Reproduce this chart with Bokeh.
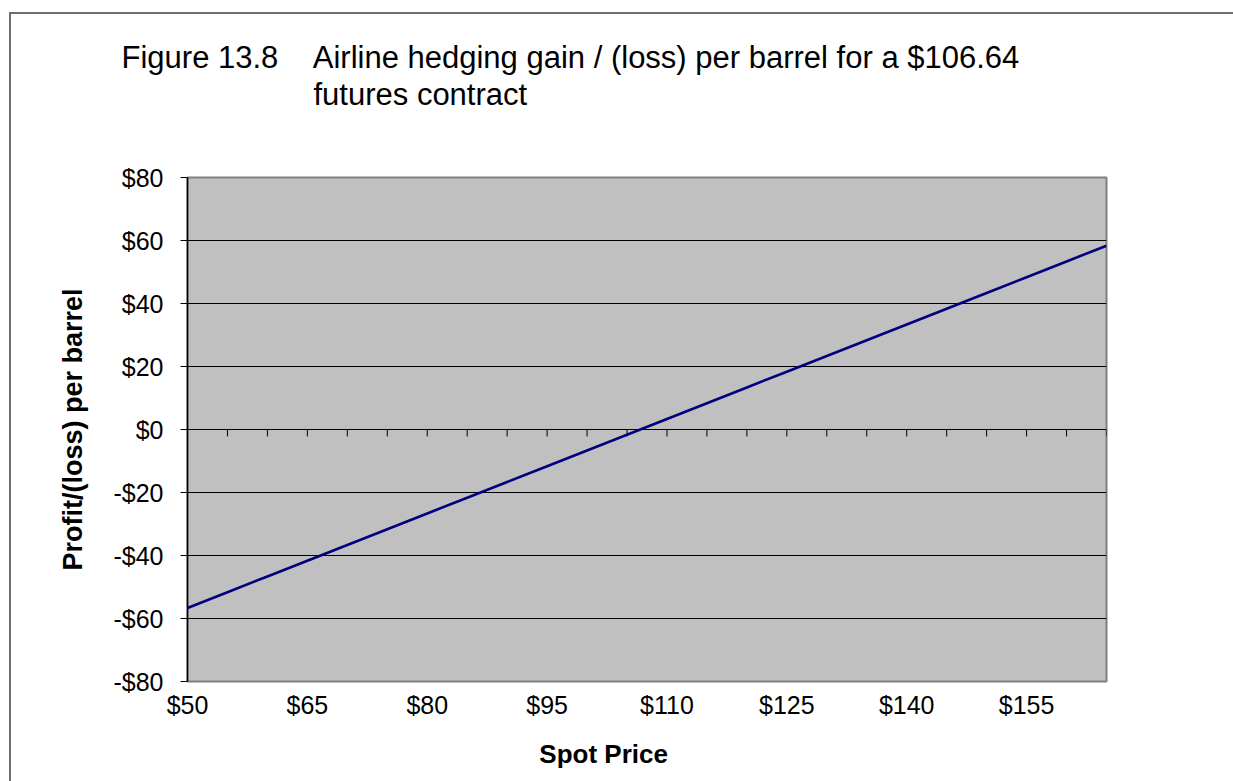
from bokeh.plotting import figure
from bokeh.models import FixedTicker, Title, ColumnDataSource, Range1d
from bokeh.embed import file_html
from bokeh.resources import INLINE

# Spot price per barrel and the hedge gain/(loss) against a $106.64 futures contract
spot = [50, 55, 60, 65, 70, 75, 80, 85, 90, 95, 100, 105,
        110, 115, 120, 125, 130, 135, 140, 145, 150, 155, 160, 165]
gain = [-56.64, -51.64, -46.64, -41.64, -36.64, -31.64, -26.64, -21.64,
        -16.64, -11.64, -6.64, -1.64, 3.36, 8.36, 13.36, 18.36,
        23.36, 28.36, 33.36, 38.36, 43.36, 48.36, 53.36, 58.36]

x_ticks = [50, 65, 80, 95, 110, 125, 140, 155]
x_tick_labels = ["$50", "$65", "$80", "$95", "$110", "$125", "$140", "$155"]
y_ticks = [-80, -60, -40, -20, 0, 20, 40, 60, 80]
y_tick_labels = ["-$80", "-$60", "-$40", "-$20", "$0", "$20", "$40", "$60", "$80"]

W, H = 1233, 781
FL, FR, FT, FB = 187, 1106, 177, 681   # frame edges on the canvas
FONT = "Liberation Sans"
NB = "\u00a0"

p = figure(width=W, height=H, output_backend="svg", toolbar_location=None,
           title_location=None,
           x_range=Range1d(50, 165), y_range=Range1d(-80, 80),
           min_border_left=FL, min_border_right=W - FR,
           min_border_top=FT, min_border_bottom=H - FB)

# white page with a thin grey frame starting near the top-left corner
p.border_fill_color = None
p.styles = {
    "background": ("linear-gradient(#6e6e6e, #6e6e6e) 9px 12px / 2px 100% no-repeat, "
                   "linear-gradient(#6e6e6e, #6e6e6e) 9px 12px / 100% 2px no-repeat, "
                   "white"),
}

p.background_fill_color = "#C0C0C0"
p.outline_line_color = "#808080"
p.outline_line_width = 2

# axes
p.xaxis.ticker = FixedTicker(ticks=x_ticks)
p.xaxis.major_label_overrides = dict(zip(x_ticks, x_tick_labels))
p.xaxis.axis_line_color = None
p.xaxis.major_tick_line_color = None
p.xaxis.minor_tick_line_color = None
p.xaxis.major_label_standoff = 3
# trailing no-break spaces pull the centred label a little to the left
p.xaxis.axis_label = "Spot Price" + NB * 12
p.xaxis.axis_label_standoff = 17

p.yaxis.ticker = FixedTicker(ticks=y_ticks)
p.yaxis.major_label_overrides = dict(zip(y_ticks, y_tick_labels))
p.yaxis.axis_line_color = "black"
p.yaxis.axis_line_width = 1.5
p.yaxis.major_tick_line_color = "black"
p.yaxis.major_tick_in = 0
p.yaxis.major_tick_out = 7
p.yaxis.minor_tick_line_color = None
p.yaxis.major_label_standoff = 17
p.yaxis.axis_label = "Profit/(loss) per barrel"
p.yaxis.axis_label_standoff = 22

for ax in (p.xaxis, p.yaxis):
    ax.major_label_text_font = FONT
    ax.major_label_text_font_size = "25px"
    ax.major_label_text_color = "black"
    ax.axis_label_text_font = FONT
    ax.axis_label_text_font_style = "bold"
    ax.axis_label_text_color = "black"
p.xaxis.axis_label_text_font_size = "26px"
p.yaxis.axis_label_text_font_size = "27px"

# gridlines
p.xgrid.grid_line_color = None
p.ygrid.ticker = FixedTicker(ticks=y_ticks)
p.ygrid.grid_line_color = "black"
p.ygrid.grid_line_width = 1

# category tick marks hanging under the zero line
tick_src = ColumnDataSource(dict(x=spot[1:], y0=[0] * (len(spot) - 1), y1=[-2.2] * (len(spot) - 1)))
p.segment(x0="x", y0="y0", x1="x", y1="y1", source=tick_src, line_color="black", line_width=1)

# hedging gain line
p.line(spot, gain, line_color="#000080", line_width=2.6)

# two-line heading; titles added later sit further from the frame
title_kw = dict(align="left", text_font=FONT, text_font_size="31px",
                text_font_style="normal", text_color="black")
p.add_layout(Title(text=NB, standoff=29, **title_kw), "above")   # blank row: gap above the frame
p.add_layout(Title(text="futures contract", offset=313 - FL, standoff=0, **title_kw), "above")
p.add_layout(Title(text="Figure 13.8" + NB * 4 + "Airline hedging gain / (loss) per barrel for a $106.64",
                   offset=121 - FL, standoff=0, **title_kw), "above")

open("out.html", "w").write(file_html(p, INLINE))
